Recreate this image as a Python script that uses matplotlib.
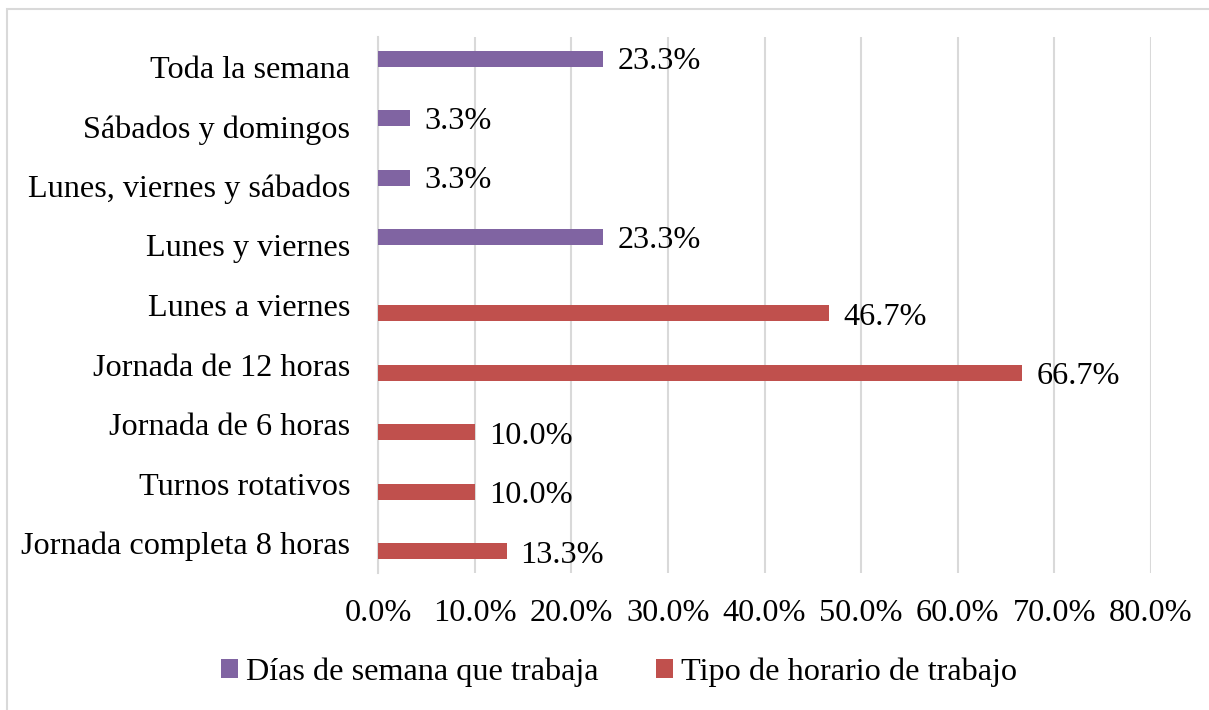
import matplotlib
matplotlib.use("Agg")
import matplotlib.pyplot as plt
from matplotlib.patches import Patch, Rectangle
import numpy as np

categories = ["Jornada completa 8 horas", "Turnos rotativos", "Jornada de 6 horas",
              "Jornada de 12 horas", "Lunes a viernes", "Lunes y viernes",
              "Lunes, viernes y sábados", "Sábados y domingos", "Toda la semana"]
dias_values = [None, None, None, None, None, 23.3, 3.3, 3.3, 23.3]
horario_values = [13.3, 10.0, 10.0, 66.7, 46.7, None, None, None, None]
series_names = ["Días de semana que trabaja", "Tipo de horario de trabajo"]
xticks = [0, 10, 20, 30, 40, 50, 60, 70, 80]

purple = "#8064A2"
red = "#C0504D"
grid_c = "#D9D9D9"

plt.rcParams['font.family'] = ['Liberation Serif', 'DejaVu Serif']

W, H = 1209, 710
fig = plt.figure(figsize=(W / 100, H / 100), dpi=100)
ax = fig.add_axes([378 / W, 1 - 573 / H, (1151 - 378) / W, (573 - 37) / H])

y = np.arange(len(categories))
h = 0.27
off = 0.135
fs = 23.2

for i, v in enumerate(dias_values):
    if v is not None:
        ax.barh(y[i] + off, v, height=h, color=purple, zorder=3)
        ax.annotate(f"{v:.1f}%", (v, y[i] + off), xytext=(14, -3), textcoords="offset pixels",
                    va="center", ha="left", fontsize=fs, color="black")
for i, v in enumerate(horario_values):
    if v is not None:
        ax.barh(y[i] - off, v, height=h, color=red, zorder=3)
        ax.annotate(f"{v:.1f}%", (v, y[i] - off), xytext=(14, -4), textcoords="offset pixels",
                    va="center", ha="left", fontsize=fs, color="black")

ax.set_xlim(0, 80)
ax.set_ylim(-0.5, len(categories) - 0.5)
ax.set_xticks(xticks)
ax.set_xticklabels([f"{t:.1f}%" for t in xticks], fontsize=fs)
ax.set_yticks(y)
ax.set_yticklabels(categories, fontsize=fs)
ax.tick_params(axis="both", length=0)
ax.tick_params(axis="y", pad=20)
ax.tick_params(axis="x", pad=19)
ax.xaxis.grid(True, color=grid_c, linewidth=1.5, zorder=0)
ax.set_axisbelow(True)
for s in ["top", "right", "bottom"]:
    ax.spines[s].set_visible(False)
ax.spines["left"].set_color(grid_c)
ax.spines["left"].set_linewidth(1.5)

handles = [Patch(facecolor=purple), Patch(facecolor=red)]
fig.legend(handles, series_names, loc="center", bbox_to_anchor=(619 / W, 1 - 672 / H),
           ncol=2, frameon=False, fontsize=fs, handlelength=0.52, handleheight=0.52,
           handletextpad=0.25, columnspacing=1.8, borderaxespad=0, borderpad=0)

fig.patches.append(Rectangle((7 / W, -0.5), 2.0, 1.5 - 9 / H, transform=fig.transFigure,
                             fill=False, edgecolor=grid_c, linewidth=1.5))

fig.savefig("out.png", dpi=100)
